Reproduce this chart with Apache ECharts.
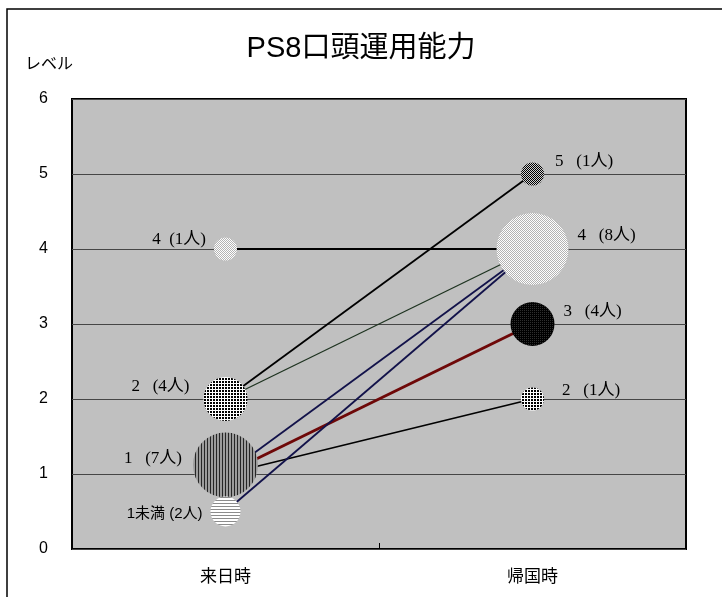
<!DOCTYPE html>
<html>
<head>
<meta charset="utf-8">
<script src="https://cdn.jsdelivr.net/npm/echarts@6/dist/echarts.min.js"></script>
<style>
  html, body { margin: 0; padding: 0; background: #fff; }
  #chart { width: 722px; height: 597px; }
</style>
</head>
<body>
<div id="chart"></div>
<script>
// Time points on the horizontal axis
const periods = ['来日時', '帰国時'];
const levelTicks = [0, 1, 2, 3, 4, 5, 6];

// Level at arrival (来日時) and number of people at that level
const arrivalLevels = [4, 2, 1, 0.5];
const arrivalNames = ['4', '2', '1', '1未満'];
const arrivalCounts = [1, 4, 7, 2];

// Level at return (帰国時) and number of people at that level
const returnLevels = [5, 4, 3, 2];
const returnNames = ['5', '4', '3', '2'];
const returnCounts = [1, 8, 4, 1];

// Observed moves: arrival level -> return level
const moveFrom = [4, 2, 2, 1, 1, 1, 0.5];
const moveTo = [4, 5, 4, 4, 3, 2, 4];

// ---- fill patterns for the bubbles ----
function pattern(w, h, draw) {
  const c = document.createElement('canvas');
  c.width = w; c.height = h;
  const g = c.getContext('2d');
  draw(g);
  return { image: c, repeat: 'repeat' };
}
const lightDots = pattern(2, 2, g => {
  g.fillStyle = '#ffffff'; g.fillRect(0, 0, 2, 2);
  g.fillStyle = '#b4b4b4'; g.fillRect(0, 0, 1, 1); g.fillRect(1, 1, 1, 1);
});
const coarseDots = pattern(3, 3, g => {
  g.fillStyle = '#ffffff'; g.fillRect(0, 0, 3, 3);
  g.fillStyle = '#000000'; g.fillRect(0, 0, 2, 2);
});
const vStripes = pattern(3, 1, g => {
  g.fillStyle = '#9c9c9c'; g.fillRect(0, 0, 3, 1);
  g.fillStyle = '#262626'; g.fillRect(0, 0, 1, 1);
});
const hStripes = pattern(1, 3, g => {
  g.fillStyle = '#ffffff'; g.fillRect(0, 0, 1, 3);
  g.fillStyle = '#8c8c8c'; g.fillRect(0, 2, 1, 1);
});
const darkCheck = pattern(2, 2, g => {
  g.fillStyle = '#d0d0d0'; g.fillRect(0, 0, 2, 2);
  g.fillStyle = '#000000'; g.fillRect(0, 0, 1, 1); g.fillRect(1, 1, 1, 1);
});
const blackDots = pattern(2, 2, g => {
  g.fillStyle = '#000000'; g.fillRect(0, 0, 2, 2);
  g.fillStyle = '#2e2e2e'; g.fillRect(0, 0, 1, 1);
});

// Per-bubble look (fill, label side / gap / vertical shift, word spacing)
const arrivalLook = [
  { fill: lightDots, side: 'left', gap: 8, dy: -9, sp: '  ' },
  { fill: coarseDots, side: 'left', gap: 14, dy: -12, sp: '   ' },
  { fill: vStripes, side: 'left', gap: 11, dy: -6, lift: -9, sp: '   ' },
  { fill: hStripes, side: 'left', gap: 8, dy: 2, sp: ' ', sans: true }
];
const returnLook = [
  { fill: darkCheck, side: 'right', gap: 11, dy: -12, sp: '   ' },
  { fill: lightDots, side: 'right', gap: 9, dy: -13, sp: '   ' },
  { fill: blackDots, side: 'right', gap: 9, dy: -12, sp: '   ' },
  { fill: coarseDots, side: 'right', gap: 18, dy: -8, sp: '   ' }
];
const moveLook = [
  { color: '#000000', width: 2 },
  { color: '#000000', width: 1.8 },
  { color: '#1e3320', width: 1.3 },
  { color: '#12124a', width: 1.8 },
  { color: '#6e0808', width: 3 },
  { color: '#000000', width: 1.8 },
  { color: '#12124a', width: 1.8 }
];

const serifFont = "'Liberation Serif', 'Noto Sans CJK JP', serif";
const sansFont = "'Liberation Sans', 'Noto Sans CJK JP', sans-serif";

// Bubble records: [period, level, count] with label text and look
const bubbleData = [];
const bubbleText = [];
const bubbleLook = [];
function addBubbles(period, levels, names, counts, looks) {
  levels.forEach((lv, i) => {
    bubbleData.push([period, lv, counts[i]]);
    bubbleText.push(names[i] + looks[i].sp + '(' + counts[i] + '人)');
    bubbleLook.push(looks[i]);
  });
}
addBubbles(periods[0], arrivalLevels, arrivalNames, arrivalCounts, arrivalLook);
addBubbles(periods[1], returnLevels, returnNames, returnCounts, returnLook);

const bubbleDiameter = n => 16 + 7 * n;

const moveSeries = moveFrom.map((f, i) => ({
  type: 'line',
  data: [[periods[0], f], [periods[1], moveTo[i]]],
  symbol: 'none',
  silent: true,
  z: 2,
  lineStyle: { color: moveLook[i].color, width: moveLook[i].width }
}));

const chart = echarts.init(document.getElementById('chart'), null, { renderer: 'canvas' });
chart.setOption({
  animation: false,
  backgroundColor: '#ffffff',
  title: {
    text: 'PS8口頭運用能力',
    left: 'center',
    top: 29,
    textStyle: { fontSize: 29, fontWeight: 'normal', color: '#000', fontFamily: sansFont }
  },
  graphic: [
    {
      type: 'rect',
      shape: { x: 7, y: 9, width: 730, height: 600 },
      style: { fill: 'none', stroke: '#000', lineWidth: 1.5 },
      silent: true
    },
    {
      type: 'text',
      left: 25, top: 57,
      style: { text: 'レベル', fontSize: 16, fill: '#000', fontFamily: sansFont }
    }
  ],
  grid: {
    left: 72, top: 99, right: 36, bottom: 48,
    show: true,
    backgroundColor: '#c0c0c0',
    borderColor: '#000',
    borderWidth: 2
  },
  xAxis: {
    type: 'category',
    data: periods,
    boundaryGap: true,
    axisLine: { show: false },
    axisTick: { show: true, inside: true, length: 6, lineStyle: { color: '#000' } },
    axisLabel: { margin: 20, fontSize: 17, color: '#000', fontFamily: sansFont },
    splitLine: { show: false }
  },
  yAxis: {
    type: 'value',
    min: levelTicks[0],
    max: levelTicks[levelTicks.length - 1],
    interval: 1,
    axisLine: { show: false },
    axisTick: { show: false },
    axisLabel: { margin: 24, fontSize: 16, color: '#000', fontFamily: sansFont },
    splitLine: { lineStyle: { color: '#464646', width: 1 } }
  },
  series: moveSeries.concat([{
    type: 'custom',
    z: 3,
    data: bubbleData,
    encode: { x: 0, y: 1 },
    renderItem: (params, api) => {
      const i = params.dataIndex;
      const look = bubbleLook[i];
      const p = api.coord([api.value(0), api.value(1)]);
      const r = bubbleDiameter(api.value(2)) / 2;
      return {
        type: 'circle',
        shape: { cx: p[0], cy: p[1] + (look.lift || 0), r: r },
        style: { fill: look.fill },
        textContent: {
          style: {
            text: bubbleText[i],
            fill: '#000',
            fontSize: look.sans ? 15 : 17,
            fontFamily: look.sans ? sansFont : serifFont
          }
        },
        textConfig: { position: look.side, distance: look.gap, offset: [0, look.dy] }
      };
    }
  }])
});
</script>
</body>
</html>
